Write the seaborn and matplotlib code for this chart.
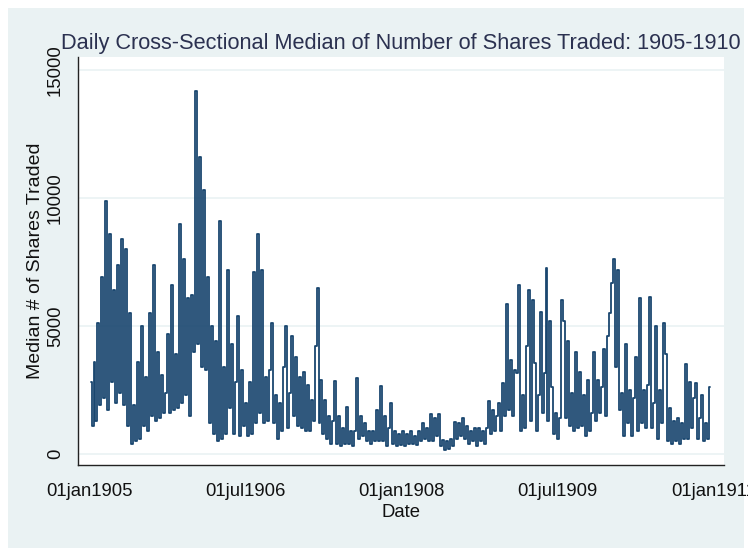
import numpy as np
import pandas as pd
import matplotlib
matplotlib.use("Agg")
import matplotlib.pyplot as plt
import matplotlib.dates as mdates
from matplotlib.patches import Rectangle
import seaborn as sns

# Median shares traded (one value per week)
vol_1905 = [2800, 1100, 3600, 1300, 5100, 1900, 6900, 2200, 9900, 1700,
            8600, 2800, 6400, 2000, 7400, 2400, 8400, 1900, 8000, 1100,
            5500, 400, 1900, 500, 3600, 600, 5000, 1100, 3000, 900,
            5500, 1500, 7400, 1300, 4000, 1400, 3100, 1600, 2400, 4700,
            1600, 6600, 1700, 3900, 1800, 9000, 2000, 7600, 2300, 6100,
            1500, 6200]
vol_1906 = [4000, 14200, 4300, 11600, 3400, 10300, 3300, 6900, 1200, 5000,
            800, 4400, 500, 9100, 600, 3400, 800, 7200, 1800, 4300,
            800, 2800, 5400, 700, 3300, 1100, 2000, 700, 2800, 800,
            7100, 1200, 8600, 1600, 7200, 1200, 3000, 1300, 3300, 5100,
            1200, 2300, 600, 2000, 900, 3400, 5000, 1000, 2400, 4600,
            1500, 3800]
vol_1907 = [1100, 3000, 1000, 3200, 900, 2700, 900, 2100, 1300, 4200,
            6500, 1200, 2900, 800, 2100, 600, 1500, 400, 1300, 2850,
            400, 1500, 300, 1000, 400, 1850, 400, 900, 300, 900,
            2950, 600, 1500, 700, 1200, 500, 900, 400, 900, 500,
            1700, 500, 2650, 500, 1500, 300, 1000, 2000, 400, 900,
            300, 800]
vol_1908 = [350, 900, 300, 800, 400, 900, 400, 700, 350, 900,
            500, 1200, 600, 1000, 500, 1550, 500, 1400, 700, 1550,
            300, 550, 150, 500, 200, 600, 300, 1250, 600, 1200,
            700, 1400, 600, 1100, 400, 900, 500, 1000, 300, 1000,
            500, 900, 400, 1000, 2070, 800, 1700, 900, 1500, 1980,
            900, 2760]
vol_1909 = [1500, 5850, 1700, 3670, 1500, 3300, 3150, 6600, 900, 2300,
            1000, 4200, 6400, 1300, 6000, 3550, 900, 2300, 5550, 1600,
            3150, 7250, 1300, 5200, 2600, 800, 1600, 600, 1400, 6000,
            5200, 1400, 4400, 1100, 2400, 900, 4000, 1000, 3200, 1100,
            2300, 700, 2900, 900, 1600, 4000, 1300, 2900, 1600, 2600,
            4100, 1500]
vol_1910 = [4600, 5500, 6700, 7600, 3400, 7200, 1700, 2400, 700, 4300,
            1200, 2500, 700, 2200, 3800, 900, 6100, 1200, 2500, 1000,
            2700, 6150, 1000, 2000, 5000, 600, 2500, 1200, 5100, 3900,
            500, 1800, 400, 1300, 500, 1400, 400, 1200, 600, 3500,
            600, 2800, 1000, 2200, 2760, 600, 1400, 2300, 500, 1200,
            600, 2600]

volume = vol_1905 + vol_1906 + vol_1907 + vol_1908 + vol_1909 + vol_1910
dates = pd.date_range("1905-01-03", periods=len(volume), freq="7D")
df = pd.DataFrame({"date": dates, "median_shares": volume})

tick_dates = ["1905-01-01", "1906-07-01", "1908-01-01", "1909-07-01", "1911-01-01"]
tick_labels = ["01jan1905", "01jul1906", "01jan1908", "01jul1909", "01jan1911"]
y_ticks = [0, 5000, 10000, 15000]

sns.set_style("white")
plt.rcParams["font.family"] = ["Liberation Sans", "DejaVu Sans"]

navy = "#1a476f"
panel = "#eaf2f3"

fig = plt.figure(figsize=(7.48, 5.48), dpi=100, facecolor="white")
fig.patches.append(Rectangle((8 / 748, 0), 736 / 748, 540 / 548,
                             transform=fig.transFigure, facecolor=panel,
                             edgecolor="none", zorder=-10))
ax = fig.add_axes([78 / 748, 83 / 548, 646 / 748, 408 / 548])
ax.set_facecolor("white")

sns.lineplot(data=df, x="date", y="median_shares", ax=ax, color=navy,
             linewidth=1.3, estimator=None, drawstyle="steps-mid")

ax.set_xlim(pd.Timestamp("1904-11-20"), pd.Timestamp("1911-02-08"))
ax.set_ylim(-430, 15510)

ax.set_yticks(y_ticks)
ax.set_yticklabels([str(v) for v in y_ticks], rotation=90, va="center")
ax.set_xticks([mdates.date2num(pd.Timestamp(d)) for d in tick_dates])
ax.set_xticklabels(tick_labels)

for v in y_ticks:
    ax.axhline(v, color=panel, linewidth=1.2, zorder=0)

for side in ["top", "right"]:
    ax.spines[side].set_visible(False)
for side in ["left", "bottom"]:
    ax.spines[side].set_color("#222222")
    ax.spines[side].set_linewidth(1.0)

ax.tick_params(axis="both", direction="out", length=7, width=1.0,
               color="#222222", labelsize=13.3, labelcolor="#111111")
ax.tick_params(axis="x", pad=6)
ax.tick_params(axis="y", pad=3)

ax.set_xlabel("Date", fontsize=13.3, color="#111111", labelpad=3)
ax.set_ylabel("Median # of Shares Traded", fontsize=14, color="#111111", labelpad=2)
ax.set_title("Daily Cross-Sectional Median of Number of Shares Traded: 1905-1910",
             fontsize=15.7, color="#2b3150", pad=6)

fig.savefig("out.png", dpi=100, facecolor=fig.get_facecolor())
